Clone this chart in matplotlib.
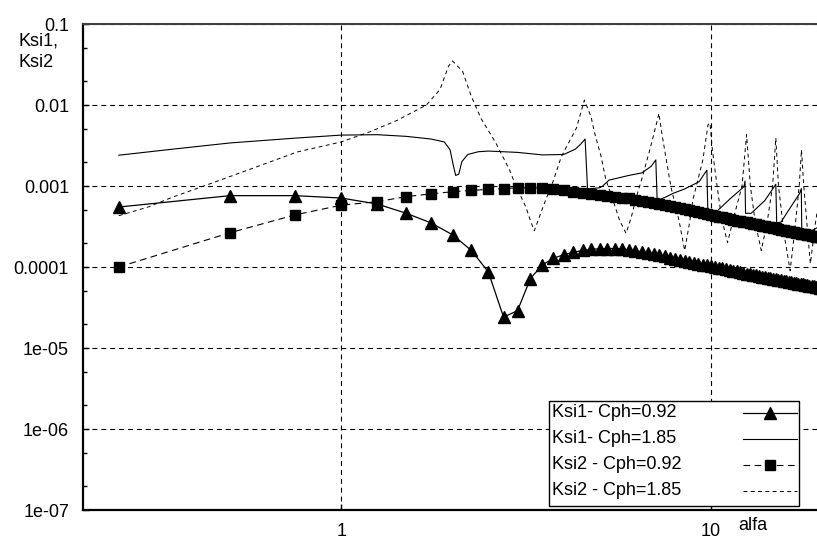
import matplotlib.pyplot as plt
from matplotlib.patches import Rectangle
from matplotlib.ticker import FixedLocator, NullLocator, NullFormatter

plt.rcParams['font.family'] = ['Liberation Sans', 'DejaVu Sans']

# alfa grid of the Cph=0.92 runs (step 0.25)
alfa = [0.25, 0.5, 0.75, 1.0, 1.25, 1.5, 1.75, 2.0, 2.25, 2.5,
        2.75, 3.0, 3.25, 3.5, 3.75, 4.0, 4.25, 4.5, 4.75, 5.0,
        5.25, 5.5, 5.75, 6.0, 6.25, 6.5, 6.75, 7.0, 7.25, 7.5,
        7.75, 8.0, 8.25, 8.5, 8.75, 9.0, 9.25, 9.5, 9.75, 10.0,
        10.25, 10.5, 10.75, 11.0, 11.25, 11.5, 11.75, 12.0, 12.25, 12.5,
        12.75, 13.0, 13.25, 13.5, 13.75, 14.0, 14.25, 14.5, 14.75, 15.0,
        15.25, 15.5, 15.75, 16.0, 16.25, 16.5, 16.75, 17.0, 17.25, 17.5,
        17.75, 18.0, 18.25, 18.5, 18.75, 19.0, 19.25, 19.5, 19.75, 20.0]

ksi1_092 = [5.5e-4, 7.6e-4, 7.6e-4, 7.1e-4, 6.0e-4, 4.6e-4, 3.5e-4, 2.5e-4, 1.6e-4, 8.7e-5,
            2.4e-5, 2.9e-5, 7.2e-5, 1.06e-4, 1.28e-4, 1.42e-4, 1.52e-4, 1.6e-4, 1.65e-4, 1.68e-4,
            1.69e-4, 1.69e-4, 1.67e-4, 1.63e-4, 1.59e-4, 1.54e-4, 1.49e-4, 1.44e-4, 1.39e-4, 1.35e-4,
            1.31e-4, 1.27e-4, 1.23e-4, 1.2e-4, 1.16e-4, 1.13e-4, 1.1e-4, 1.07e-4, 1.05e-4, 1.02e-4,
            1.0e-4, 9.8e-5, 9.6e-5, 9.4e-5, 9.2e-5, 9.0e-5, 8.8e-5, 8.7e-5, 8.5e-5, 8.3e-5,
            8.2e-5, 8.0e-5, 7.9e-5, 7.8e-5, 7.6e-5, 7.5e-5, 7.4e-5, 7.3e-5, 7.2e-5, 7.1e-5,
            7.0e-5, 6.9e-5, 6.8e-5, 6.7e-5, 6.6e-5, 6.5e-5, 6.4e-5, 6.3e-5, 6.25e-5, 6.2e-5,
            6.1e-5, 6.0e-5, 5.95e-5, 5.9e-5, 5.8e-5, 5.75e-5, 5.7e-5, 5.6e-5, 5.55e-5, 5.5e-5]

ksi2_092 = [1.0e-4, 2.65e-4, 4.4e-4, 5.8e-4, 6.4e-4, 7.4e-4, 8.0e-4, 8.5e-4, 8.8e-4, 9.1e-4,
            9.3e-4, 9.5e-4, 9.5e-4, 9.4e-4, 9.1e-4, 8.8e-4, 8.5e-4, 8.2e-4, 7.95e-4, 7.7e-4,
            7.5e-4, 7.35e-4, 7.2e-4, 7.05e-4, 6.8e-4, 6.6e-4, 6.4e-4, 6.2e-4, 6.0e-4, 5.8e-4,
            5.65e-4, 5.5e-4, 5.35e-4, 5.2e-4, 5.05e-4, 4.9e-4, 4.8e-4, 4.65e-4, 4.55e-4, 4.4e-4,
            4.3e-4, 4.2e-4, 4.1e-4, 4.0e-4, 3.9e-4, 3.85e-4, 3.75e-4, 3.7e-4, 3.6e-4, 3.55e-4,
            3.5e-4, 3.4e-4, 3.35e-4, 3.3e-4, 3.25e-4, 3.2e-4, 3.15e-4, 3.1e-4, 3.05e-4, 3.0e-4,
            2.95e-4, 2.9e-4, 2.85e-4, 2.8e-4, 2.77e-4, 2.73e-4, 2.7e-4, 2.66e-4, 2.62e-4, 2.59e-4,
            2.55e-4, 2.52e-4, 2.49e-4, 2.46e-4, 2.43e-4, 2.4e-4, 2.37e-4, 2.35e-4, 2.32e-4, 2.3e-4]

# Cph=1.85 runs, sampled finer around the resonances
alfa_ksi1_185 = [0.25, 0.35, 0.5, 0.75, 1.0, 1.25, 1.5, 1.75, 1.9, 1.97,
                 2.01, 2.04, 2.08, 2.12, 2.2, 2.35, 2.5, 3.0, 3.5, 4.0,
                 4.3, 4.45, 4.57, 4.64, 5.0, 5.1, 5.3, 6.0, 6.5, 6.9,
                 7.1, 7.16, 7.5, 7.9, 8.5, 9.3, 9.76, 9.82, 10.4, 11.3,
                 12.3, 12.38, 12.42, 12.86, 14.0, 15.0, 15.08, 15.5, 16.5, 17.4,
                 17.58, 17.64, 17.9, 19.0, 20.0]
ksi1_185 = [2.4e-3, 2.85e-3, 3.4e-3, 3.9e-3, 4.25e-3, 4.3e-3, 4.1e-3, 3.8e-3, 3.5e-3, 2.8e-3,
            1.8e-3, 1.35e-3, 1.4e-3, 2.0e-3, 2.45e-3, 2.65e-3, 2.7e-3, 2.6e-3, 2.42e-3, 2.45e-3,
            2.85e-3, 3.3e-3, 3.8e-3, 9.2e-4, 9.5e-4, 1.0e-3, 1.18e-3, 1.35e-3, 1.45e-3, 1.75e-3,
            2.1e-3, 6.6e-4, 7.2e-4, 8.1e-4, 9.2e-4, 1.13e-3, 1.57e-3, 4.8e-4, 4.9e-4, 7.0e-4,
            9.8e-4, 1.15e-3, 4.6e-4, 4.6e-4, 6.6e-4, 1.05e-3, 3.5e-4, 3.6e-4, 5.6e-4, 8.1e-4,
            9.3e-4, 2.3e-4, 2.5e-4, 2.9e-4, 3.3e-4]

alfa_ksi2_185 = [0.25, 0.3, 0.35, 0.43, 0.56, 0.76, 1.0, 1.2, 1.42, 1.7,
                 1.85, 1.95, 2.0, 2.13, 2.25, 2.39, 2.62, 2.85, 2.97, 3.16,
                 3.26, 3.33, 3.44, 3.55, 3.74, 3.94, 4.33, 4.55, 4.74, 4.85,
                 5.05, 5.2, 5.45, 5.66, 5.9, 6.1, 6.3, 6.5, 6.84, 7.13,
                 7.24, 7.37, 7.58, 7.8, 8.2, 8.5, 8.76, 8.94, 9.52, 9.83,
                 9.95, 10.1, 10.4, 10.7, 11.1, 11.6, 12.15, 12.5, 12.8, 13.2,
                 13.7, 14.2, 14.7, 15.0, 15.25, 15.8, 16.4, 16.9, 17.35, 17.6,
                 17.85, 18.2, 18.6, 19.2, 20.0]
ksi2_185 = [4.3e-4, 5.5e-4, 7.3e-4, 1.02e-3, 1.58e-3, 2.63e-3, 3.5e-3, 4.7e-3, 6.5e-3, 1.0e-2,
            1.55e-2, 3.0e-2, 3.5e-2, 2.6e-2, 1.27e-2, 6.8e-3, 3.4e-3, 1.6e-3, 1.0e-3, 5.5e-4,
            3.6e-4, 2.8e-4, 4.2e-4, 6.2e-4, 1.13e-3, 2.3e-3, 5.2e-3, 1.15e-2, 7.2e-3, 4.5e-3,
            2.3e-3, 1.2e-3, 6.5e-4, 3.8e-4, 2.6e-4, 4.2e-4, 7.5e-4, 1.2e-3, 2.8e-3, 5.9e-3,
            7.9e-3, 4.5e-3, 2.1e-3, 9.8e-4, 3.8e-4, 1.6e-4, 3.5e-4, 6.7e-4, 2.1e-3, 5.7e-3,
            6.0e-3, 2.8e-3, 1.0e-3, 4.0e-4, 2.0e-4, 4.5e-4, 1.0e-3, 4.3e-3, 1.0e-3, 3.5e-4,
            1.6e-4, 3.5e-4, 1.0e-3, 3.9e-3, 1.0e-3, 2.5e-4, 9.0e-5, 3.0e-4, 1.0e-3, 2.8e-3,
            1.0e-3, 3.5e-4, 1.1e-4, 3.5e-4, 1.2e-3]

y_ticks = [1e-7, 1e-6, 1e-5, 1e-4, 1e-3, 1e-2, 1e-1]
y_tick_labels = ['1e-07', '1e-06', '1e-05', '0.0001', '0.001', '0.01', '0.1']
x_ticks = [1, 10]
x_tick_labels = ['1', '10']
labels = ['Ksi1- Cph=0.92', 'Ksi1- Cph=1.85', 'Ksi2 - Cph=0.92', 'Ksi2 - Cph=1.85']

styles = [
    dict(color='k', lw=0.9, marker='^', ms=8),
    dict(color='k', lw=0.8),
    dict(color='k', lw=0.8, ls=(0, (6, 4)), marker='s', ms=7),
    dict(color='k', lw=0.7, ls=(0, (4, 3.5))),
]

fig = plt.figure(figsize=(8.17, 5.42), dpi=100)
ax = fig.add_axes([83 / 817, 32 / 542, 739 / 817, 486 / 542])
ax.set_xscale('log')
ax.set_yscale('log')

ax.plot(alfa_ksi2_185, ksi2_185, **styles[3])
ax.plot(alfa_ksi1_185, ksi1_185, **styles[1])
ax.plot(alfa, ksi2_092, **styles[2])
ax.plot(alfa, ksi1_092, **styles[0])

ax.grid(True, which='major', color='k', lw=0.8, ls=(0, (4.5, 3.5)))
ax.set_axisbelow(True)

ax.yaxis.set_major_locator(FixedLocator(y_ticks))
ax.set_yticklabels(y_tick_labels)
minor_y = [m * 10.0 ** e for e in range(-7, -1) for m in (2, 5)]
ax.yaxis.set_minor_locator(FixedLocator(minor_y))
ax.yaxis.set_minor_formatter(NullFormatter())
ax.xaxis.set_major_locator(FixedLocator(x_ticks))
ax.set_xticklabels(x_tick_labels)
ax.xaxis.set_minor_locator(NullLocator())

ax.tick_params(axis='both', which='major', direction='in', length=4, width=1,
               labelsize=13, colors='k')
ax.tick_params(axis='y', which='major', pad=10)
ax.tick_params(axis='x', which='major', pad=9)
ax.tick_params(axis='y', which='minor', direction='in', length=3, width=1)

for side in ('left', 'bottom'):
    ax.spines[side].set_linewidth(1.6)
ax.spines['top'].set_linewidth(1.5)
ax.spines['top'].set_color('#404040')
ax.spines['right'].set_visible(False)

# legend box: labels on the left, line samples on the right
ax.add_patch(Rectangle((0.6306, 0.0082), 0.3383, 0.2161, transform=ax.transAxes,
                       fc='white', ec='k', lw=1, zorder=5))
rows = [0.1996, 0.1461, 0.0926, 0.0391]
for y, label, st in zip(rows, labels, styles):
    ax.text(0.6346, y, label, transform=ax.transAxes, ha='left', va='center',
            fontsize=13, zorder=6)
    line_st = {k: v for k, v in st.items() if k not in ('marker', 'ms')}
    ax.plot([0.8931, 0.9662], [y, y], transform=ax.transAxes, zorder=6, **line_st)
    if 'marker' in st:
        ax.plot([0.9296], [y], transform=ax.transAxes, zorder=7, ls='none',
                color='k', marker=st['marker'], ms=st['ms'])

ax.set_xlim(0.2, 20)
ax.set_ylim(1e-7, 0.1)

fig.text(19 / 817, 1 - 33 / 542, 'Ksi1,\nKsi2', ha='left', va='top', fontsize=13,
         linespacing=1.3)
fig.text(753 / 817, 1 - 526 / 542, 'alfa', ha='center', va='center', fontsize=13)

fig.savefig('out.png', dpi=100)
